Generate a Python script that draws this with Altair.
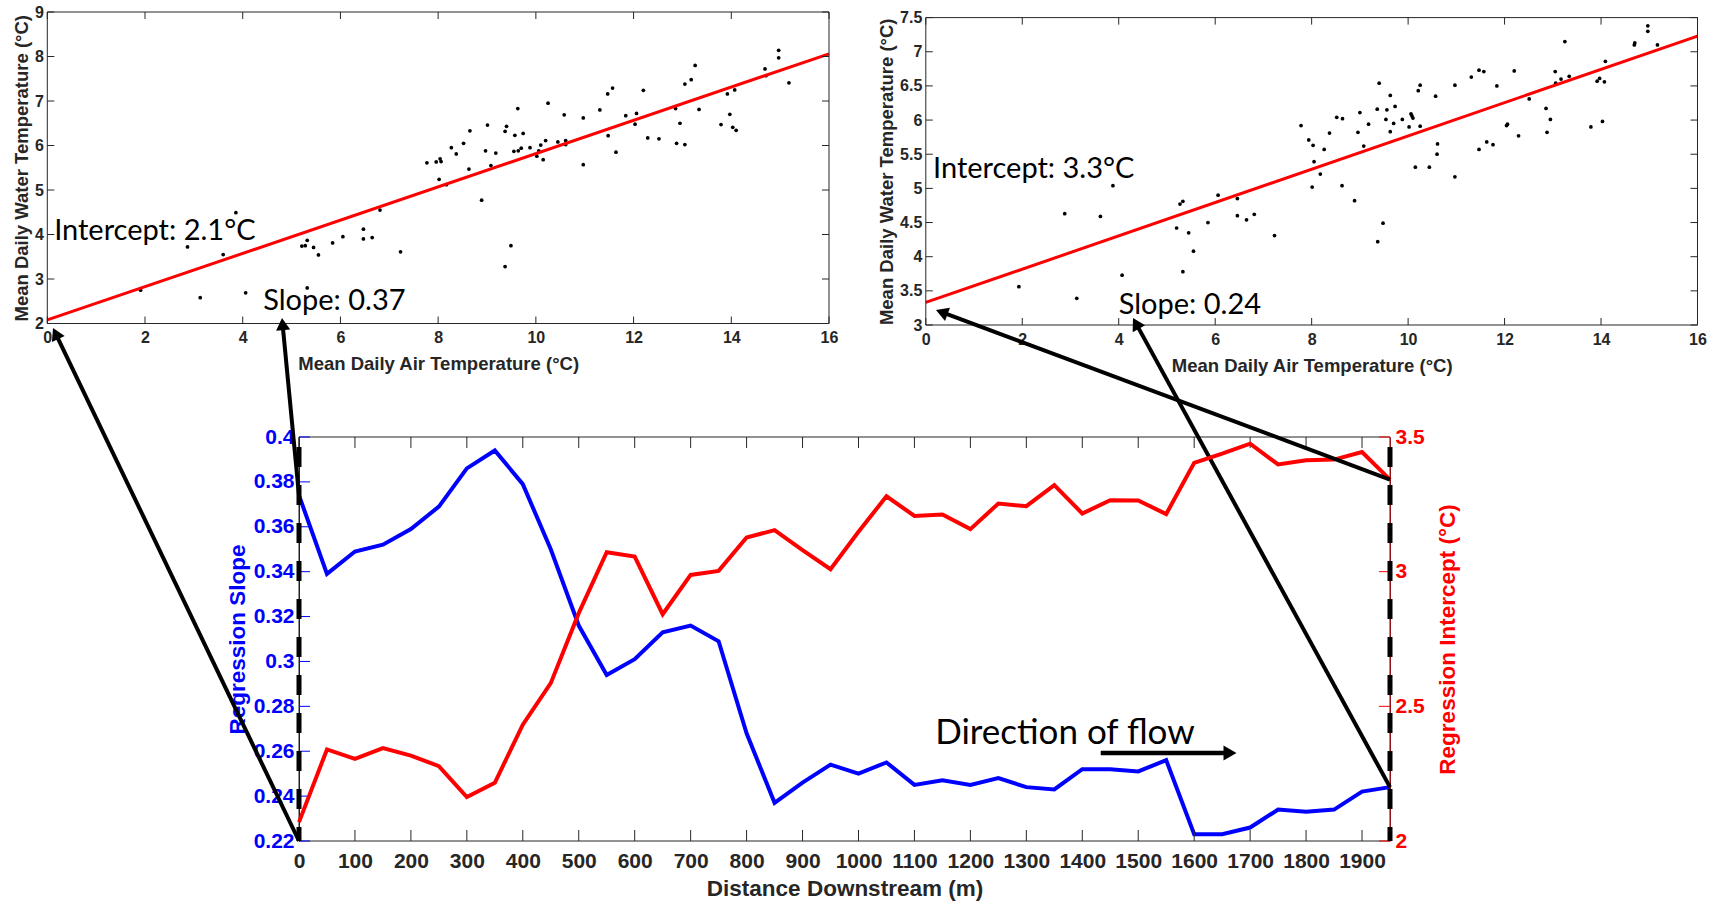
import math
import altair as alt
import pandas as pd

# ---------------- data ----------------
# upstream site (top-left panel)
AIR_A = [1.91, 2.87, 3.13, 3.60, 3.86, 4.06, 5.21, 5.28, 5.32, 5.45, 5.55, 5.32, 5.84, 6.05,
         6.47, 6.47, 6.65, 6.81, 7.23, 7.77, 7.96, 8.04, 8.06, 8.02, 8.17, 8.27, 8.37, 8.52,
         8.65, 8.63, 8.89, 8.97, 9.01, 9.08, 9.18, 9.37, 9.40, 9.49, 9.57, 9.55, 9.63, 9.64,
         9.70, 9.74, 9.88, 10.02, 10.06, 10.10, 10.15, 10.20, 10.25, 10.45, 10.58, 10.61,
         10.61, 10.97, 10.97, 11.31, 11.48, 11.47, 11.57, 11.64, 11.84, 12.03, 12.06, 12.20,
         12.29, 12.52, 12.86, 12.88, 12.95, 13.05, 13.05, 13.18, 13.26, 13.34, 13.79, 13.92,
         13.97, 14.07, 14.03, 14.10, 14.69, 14.71, 14.97, 14.97, 15.18, 9.37]
WATER_A = [2.75, 3.72, 2.58, 3.55, 4.49, 2.69, 3.74, 3.75, 3.87, 3.71, 3.54, 2.80, 3.81, 3.95,
           4.12, 3.90, 3.93, 4.55, 3.61, 5.61, 5.63, 5.70, 5.64, 5.24, 5.12, 5.95, 5.81, 6.05,
           6.33, 5.47, 4.77, 5.88, 6.46, 5.55, 5.83, 6.32, 6.43, 3.75, 6.23, 5.87, 6.83, 5.88,
           5.94, 6.27, 5.95, 5.76, 5.88, 6.01, 5.68, 6.11, 6.95, 6.08, 6.69, 6.11,
           6.02, 6.62, 5.57, 6.80, 6.22, 7.16, 7.29, 5.85, 6.67, 6.48, 6.72, 7.24,
           6.17, 6.15, 6.83, 6.05, 6.50, 7.38, 6.02, 7.48, 7.80, 6.81, 6.47, 7.16,
           6.70, 7.25, 6.41, 6.34, 7.72, 7.57, 8.14, 7.97, 7.41, 3.28]

# downstream site (top-right panel)
AIR_B = [1.93, 2.88, 3.13, 3.62, 3.88, 4.07, 5.20, 5.27, 5.33, 5.45, 5.55, 5.33, 5.85, 6.06,
         6.46, 6.46, 6.65, 6.81, 7.23, 7.78, 7.94, 8.03, 8.05, 8.01, 8.18, 8.26, 8.37, 8.52,
         8.64, 8.63, 8.89, 8.96, 9.00, 9.08, 9.18, 9.36, 9.40, 9.37, 9.48, 9.54, 9.56, 9.63,
         9.63, 9.70, 9.73, 9.88, 10.02, 10.06, 10.08, 10.10, 10.15, 10.21, 10.25, 10.25,
         10.44, 10.57, 10.60, 10.61, 10.97, 10.97, 11.31, 11.47, 11.47, 11.57, 11.63, 11.76,
         11.84, 12.04, 12.06, 12.20, 12.29, 12.51, 12.86, 12.88, 12.95, 13.05, 13.06, 13.17,
         13.25, 13.34, 13.79, 13.92, 13.97, 14.07, 14.09, 14.03, 14.69, 14.70, 14.97, 14.97,
         15.17]
WATER_B = [3.56, 4.63, 3.39, 4.59, 5.04, 3.73, 4.42, 4.77, 4.81, 4.35, 4.08, 3.78, 4.50, 4.90,
           4.85, 4.60, 4.54, 4.62, 4.31, 5.92, 5.71, 5.63, 5.39, 5.02, 5.21, 5.57, 5.81, 6.04,
           6.02, 5.04, 4.82, 5.82, 6.11, 5.62, 5.94, 6.16, 6.54, 4.22, 4.49, 6.01, 6.15, 6.36,
           5.83, 5.95, 6.20, 6.01, 5.90, 6.09, 6.06, 6.03, 5.31, 6.43, 6.51, 5.91,
           5.31, 6.35, 5.50, 5.65, 6.51, 5.17, 6.63, 6.73, 5.57, 6.71, 5.68, 5.64,
           6.50, 5.92, 5.94, 6.72, 5.77, 6.31, 6.17, 5.82, 6.01, 6.71, 6.54, 6.60,
           7.15, 6.64, 5.90, 6.57, 6.61, 6.56, 6.86, 5.98, 7.10, 7.13, 7.30, 7.38,
           7.10]

FIT_X = [0, 16]
FIT_A = [2.08, 8.06]   # regression line ends, upstream
FIT_B = [3.33, 7.23]   # regression line ends, downstream

NOTES_A = ["Intercept: 2.1°C", "Slope: 0.37"]
NOTES_A_X = [0.14, 4.42]
NOTES_A_Y = [4.07, 2.50]
NOTES_B = ["Intercept: 3.3°C", "Slope: 0.24"]
NOTES_B_X = [0.15, 4.0]
NOTES_B_Y = [5.28, 3.30]

TOP_X_TICKS = [0, 2, 4, 6, 8, 10, 12, 14, 16]
TL_Y_TICKS = [2, 3, 4, 5, 6, 7, 8, 9]
TR_Y_TICKS = [3, 3.5, 4, 4.5, 5, 5.5, 6, 6.5, 7, 7.5]

# longitudinal profile (bottom panel)
DIST = [0, 50, 100, 150, 200, 250, 300, 350, 400, 450, 500, 550, 600, 650, 700, 750, 800,
        850, 900, 950, 1000, 1050, 1100, 1150, 1200, 1250, 1300, 1350, 1400, 1450, 1500,
        1550, 1600, 1650, 1700, 1750, 1800, 1850, 1900, 1950]
SLOPE = [0.374, 0.339, 0.349, 0.352, 0.359, 0.369, 0.386, 0.394, 0.379, 0.350, 0.316, 0.294,
         0.301, 0.313, 0.316, 0.309, 0.268, 0.237, 0.246, 0.254, 0.250, 0.255, 0.245, 0.247,
         0.245, 0.248, 0.244, 0.243, 0.252, 0.252, 0.251, 0.256, 0.223, 0.223, 0.226, 0.234,
         0.233, 0.234, 0.242, 0.244]
INTERCEPT = [2.07, 2.34, 2.305, 2.345, 2.317, 2.278, 2.163, 2.216, 2.432, 2.586, 2.846, 3.072,
             3.056, 2.842, 2.988, 3.003, 3.127, 3.154, 3.08, 3.009, 3.148, 3.28, 3.207, 3.212,
             3.158, 3.253, 3.243, 3.321, 3.216, 3.265, 3.264, 3.214, 3.404, 3.438, 3.475, 3.398,
             3.414, 3.416, 3.444, 3.342]
DIST_TICKS = [0, 100, 200, 300, 400, 500, 600, 700, 800, 900, 1000, 1100, 1200, 1300, 1400,
              1500, 1600, 1700, 1800, 1900]
SLOPE_TICKS = [0.22, 0.24, 0.26, 0.28, 0.3, 0.32, 0.34, 0.36, 0.38, 0.4]
ICPT_TICKS = [2, 2.5, 3, 3.5]
FLOW_TEXT = ["Direction of flow"]
FLOW_TEXT_POS = [1137, 0.2683]
FLOW_ARROW = [1433, 1676, 0.2592]

# ---------------- styling / layout (page pixels) ----------------
W, H = 1709, 901
INK = "#262626"
RED = "#ff0000"
BLUE = "#0000ff"
AX_FONT = "Liberation Sans"
NOTE_FONT = "Lato"
FMT = "~g"

TL = dict(x0=47.3, x1=829.0, y0=12.0, y1=323.5)     # plot rectangles
TR = dict(x0=925.8, x1=1697.5, y0=17.6, y1=325.0)
BT = dict(x0=299.0, x1=1390.0, y0=437.0, y1=841.0)

TL_XDOM, TL_YDOM = [0, 16], [2, 9]
TR_XDOM, TR_YDOM = [0, 16], [3, 7.5]
BT_XDOM, BT_YL, BT_YR = [0, 1950], [0.22, 0.4], [2, 3.5]

ONE = pd.DataFrame({"a": [0]})


def top_panel(air, water, fit_y, xdom, ydom, yticks, notes, nx, ny, box):
    xs = alt.Scale(domain=xdom, range=[box["x0"], box["x1"]], nice=False, zero=False)
    ys = alt.Scale(domain=ydom, range=[box["y1"], box["y0"]], nice=False, zero=False)
    xaxis = alt.Axis(values=TOP_X_TICKS, format="d", title="Mean Daily Air Temperature (°C)",
                     orient="bottom", offset=box["y1"] - H, ticks=False, domain=False,
                     grid=False, labelFont=AX_FONT, labelFontSize=16, labelFontWeight="bold",
                     labelColor=INK, labelPadding=6, labelFlush=False, labelOverlap=False,
                     titleFont=AX_FONT, titleFontSize=18.5, titleFontWeight="bold",
                     titleColor=INK, titlePadding=9)
    yaxis = alt.Axis(values=yticks, format=FMT, title="Mean Daily Water Temperature (°C)",
                     orient="left", offset=-box["x0"], ticks=False, domain=False, grid=False,
                     labelFont=AX_FONT, labelFontSize=16, labelFontWeight="bold",
                     labelColor=INK, labelPadding=4, labelOverlap=False, titleFont=AX_FONT,
                     titleFontSize=18.5, titleFontWeight="bold", titleColor=INK,
                     titlePadding=3)
    pts = alt.Chart(pd.DataFrame({"air": air, "water": water})).mark_circle(
        size=14, color="black", opacity=1).encode(
        x=alt.X("air:Q", scale=xs, axis=xaxis), y=alt.Y("water:Q", scale=ys, axis=yaxis))
    fit = alt.Chart(pd.DataFrame({"air": FIT_X, "water": fit_y})).mark_line(
        color=RED, strokeWidth=3).encode(x="air:Q", y="water:Q")
    frame = alt.Chart(ONE).mark_rect(filled=False, color=INK, strokeWidth=1).encode(
        x=alt.X(datum=xdom[0]), x2=alt.X2(datum=xdom[1]),
        y=alt.Y(datum=ydom[0]), y2=alt.Y2(datum=ydom[1]))
    xt = alt.Chart(pd.DataFrame({"v": TOP_X_TICKS}))
    yt = alt.Chart(pd.DataFrame({"v": yticks}))
    tick_b = xt.mark_rule(color=INK, y2Offset=-7).encode(
        x="v:Q", y=alt.Y(datum=ydom[0]), y2=alt.Y2(datum=ydom[0]))
    tick_t = xt.mark_rule(color=INK, y2Offset=7).encode(
        x="v:Q", y=alt.Y(datum=ydom[1]), y2=alt.Y2(datum=ydom[1]))
    tick_l = yt.mark_rule(color=INK, x2Offset=7).encode(
        y="v:Q", x=alt.X(datum=xdom[0]), x2=alt.X2(datum=xdom[0]))
    tick_r = yt.mark_rule(color=INK, x2Offset=-7).encode(
        y="v:Q", x=alt.X(datum=xdom[1]), x2=alt.X2(datum=xdom[1]))
    txt = alt.Chart(pd.DataFrame({"air": nx, "water": ny, "label": notes})).mark_text(
        align="left", baseline="middle", font=NOTE_FONT, fontSize=29, color="black").encode(
        x="air:Q", y="water:Q", text="label:N")
    return alt.layer(pts, fit, frame, tick_b, tick_t, tick_l, tick_r, txt)


tl = top_panel(AIR_A, WATER_A, FIT_A, TL_XDOM, TL_YDOM, TL_Y_TICKS, NOTES_A, NOTES_A_X,
               NOTES_A_Y, TL)
tr = top_panel(AIR_B, WATER_B, FIT_B, TR_XDOM, TR_YDOM, TR_Y_TICKS, NOTES_B, NOTES_B_X,
               NOTES_B_Y, TR)

# ---------------- bottom panel ----------------
df_b = pd.DataFrame({"d": DIST, "slope": SLOPE, "icpt": INTERCEPT})
xs_b = alt.Scale(domain=BT_XDOM, range=[BT["x0"], BT["x1"]], nice=False, zero=False)
ys_l = alt.Scale(domain=BT_YL, range=[BT["y1"], BT["y0"]], nice=False, zero=False)
ys_r = alt.Scale(domain=BT_YR, range=[BT["y1"], BT["y0"]], nice=False, zero=False)

xaxis_b = alt.Axis(values=DIST_TICKS, format="d", title="Distance Downstream (m)",
                   orient="bottom", offset=BT["y1"] - H, ticks=False, domain=False, grid=False,
                   labelFont=AX_FONT, labelFontSize=21, labelFontWeight="bold", labelColor=INK,
                   labelPadding=9, labelFlush=False, labelOverlap=False, titleFont=AX_FONT,
                   titleFontSize=22.5, titleFontWeight="bold", titleColor=INK, titlePadding=6)
yaxis_l = alt.Axis(values=SLOPE_TICKS, format=FMT, title="Regression Slope", orient="left",
                   offset=-BT["x0"], ticks=False, domain=True, domainColor=BLUE, domainWidth=1,
                   grid=False, labelFont=AX_FONT, labelFontSize=21, labelFontWeight="bold",
                   labelColor=BLUE, labelPadding=5, labelOverlap=False, titleFont=AX_FONT,
                   titleFontSize=22.5, titleFontWeight="bold", titleColor=BLUE, titlePadding=4)
yaxis_r = alt.Axis(values=ICPT_TICKS, format=FMT, title="Regression Intercept (°C)",
                   orient="right", offset=BT["x1"] - W, ticks=False, domain=True,
                   domainColor=RED, domainWidth=1, grid=False, labelFont=AX_FONT,
                   labelFontSize=21, labelFontWeight="bold", labelColor=RED, labelPadding=5,
                   labelOverlap=False, titleFont=AX_FONT, titleFontSize=22.5,
                   titleFontWeight="bold", titleColor=RED, titlePadding=12, titleAngle=270,
                   titleBaseline="top")


def bx(d):
    return BT["x0"] + (d - BT_XDOM[0]) / (BT_XDOM[1] - BT_XDOM[0]) * (BT["x1"] - BT["x0"])


def by(v, dom):
    return BT["y1"] - (v - dom[0]) / (dom[1] - dom[0]) * (BT["y1"] - BT["y0"])


HEAD = 200
HEAD_H = 0.866 * math.sqrt(HEAD) / 2


def pointer(tip, d, v, dom):
    """Arrow from a point of the profile (data) to a point of a top panel (page pixels)."""
    tx, ty = tip
    sx, sy = bx(d), by(v, dom)
    dx, dy = tx - sx, ty - sy
    L = math.hypot(dx, dy)
    ux, uy = dx / L, dy / L
    cx, cy = tx - ux * HEAD_H, ty - uy * HEAD_H
    ang = math.degrees(math.atan2(dx, -dy)) % 360
    line = alt.Chart(ONE).mark_rule(color="black", strokeWidth=4).encode(
        x=alt.X(datum=d), y=alt.Y(datum=v), x2=alt.value(cx), y2=alt.value(cy))
    head = alt.Chart(ONE).mark_point(shape="triangle-up", filled=True, size=HEAD, color="black",
                                     opacity=1, strokeWidth=0).encode(
        x=alt.value(cx), y=alt.value(cy), angle=alt.value(ang))
    return [line, head]


base = alt.Chart(df_b)
blue = base.mark_line(color=BLUE, strokeWidth=4).encode(
    x=alt.X("d:Q", scale=xs_b, axis=xaxis_b), y=alt.Y("slope:Q", scale=ys_l, axis=yaxis_l))
frame_b = alt.Chart(ONE).mark_rect(filled=False, color=INK, strokeWidth=1).encode(
    x=alt.X(datum=BT_XDOM[0]), x2=alt.X2(datum=BT_XDOM[1]),
    y=alt.Y(datum=BT_YL[0]), y2=alt.Y2(datum=BT_YL[1]))
xt_b = alt.Chart(pd.DataFrame({"v": DIST_TICKS}))
tick_xb = xt_b.mark_rule(color=INK, y2Offset=-11).encode(
    x="v:Q", y=alt.Y(datum=BT_YL[0]), y2=alt.Y2(datum=BT_YL[0]))
tick_xt = xt_b.mark_rule(color=INK, y2Offset=11).encode(
    x="v:Q", y=alt.Y(datum=BT_YL[1]), y2=alt.Y2(datum=BT_YL[1]))
tick_l = alt.Chart(pd.DataFrame({"v": SLOPE_TICKS})).mark_rule(color=BLUE, x2Offset=11).encode(
    y="v:Q", x=alt.X(datum=BT_XDOM[0]), x2=alt.X2(datum=BT_XDOM[0]))

flow_txt = alt.Chart(pd.DataFrame({"d": [FLOW_TEXT_POS[0]], "slope": [FLOW_TEXT_POS[1]],
                                   "t": FLOW_TEXT})).mark_text(
    align="left", baseline="middle", font=NOTE_FONT, fontSize=35, color="black").encode(
    x="d:Q", y="slope:Q", text="t:N")
flow_df = pd.DataFrame({"d": [FLOW_ARROW[0]], "d2": [FLOW_ARROW[1] - 12],
                        "slope": [FLOW_ARROW[2]]})
flow_line = alt.Chart(flow_df).mark_rule(color="black", strokeWidth=4.5).encode(
    x="d:Q", x2="d2:Q", y="slope:Q")
flow_head = alt.Chart(flow_df).mark_point(shape="triangle-right", filled=True, size=225,
                                          color="black", opacity=1, strokeWidth=0).encode(
    x="d2:Q", y="slope:Q")

left_layers = [blue, frame_b, tick_xb, tick_xt, tick_l, flow_txt, flow_line, flow_head]
left_layers += pointer((53, 328), DIST[0], BT_YL[0], BT_YL)
left_layers += pointer((282, 318), DIST[0], SLOPE[0], BT_YL)
left_layers += pointer((1133, 318), DIST[-1], SLOPE[-1], BT_YL)
left_group = alt.layer(*left_layers)

red = base.mark_line(color=RED, strokeWidth=4).encode(
    x="d:Q", y=alt.Y("icpt:Q", scale=ys_r, axis=yaxis_r))
tick_r = alt.Chart(pd.DataFrame({"v": ICPT_TICKS})).mark_rule(color=RED, x2Offset=-11).encode(
    y="v:Q", x=alt.X(datum=BT_XDOM[1]), x2=alt.X2(datum=BT_XDOM[1]))
dashed = alt.Chart(pd.DataFrame({"d": BT_XDOM})).mark_rule(
    color="black", strokeWidth=5, strokeDash=[20, 18], strokeDashOffset=28).encode(
    x="d:Q", y=alt.Y(datum=BT_YR[1]), y2=alt.Y2(datum=BT_YR[0]))
right_layers = [red, tick_r]
right_layers += pointer((936, 310), DIST[-1], INTERCEPT[-1], BT_YR)
right_layers += [dashed]
right_group = alt.layer(*right_layers)

bottom = alt.layer(left_group, right_group).resolve_scale(y="independent")

chart = alt.layer(tl, tr, bottom).resolve_scale(x="independent", y="independent").properties(
    width=W, height=H, autosize=alt.AutoSizeParams(type="none"), padding=0, background="white")
chart = chart.configure_view(strokeWidth=0).configure_axis(grid=False)

chart.save("out.html", embed_options={"renderer": "svg", "actions": False})
